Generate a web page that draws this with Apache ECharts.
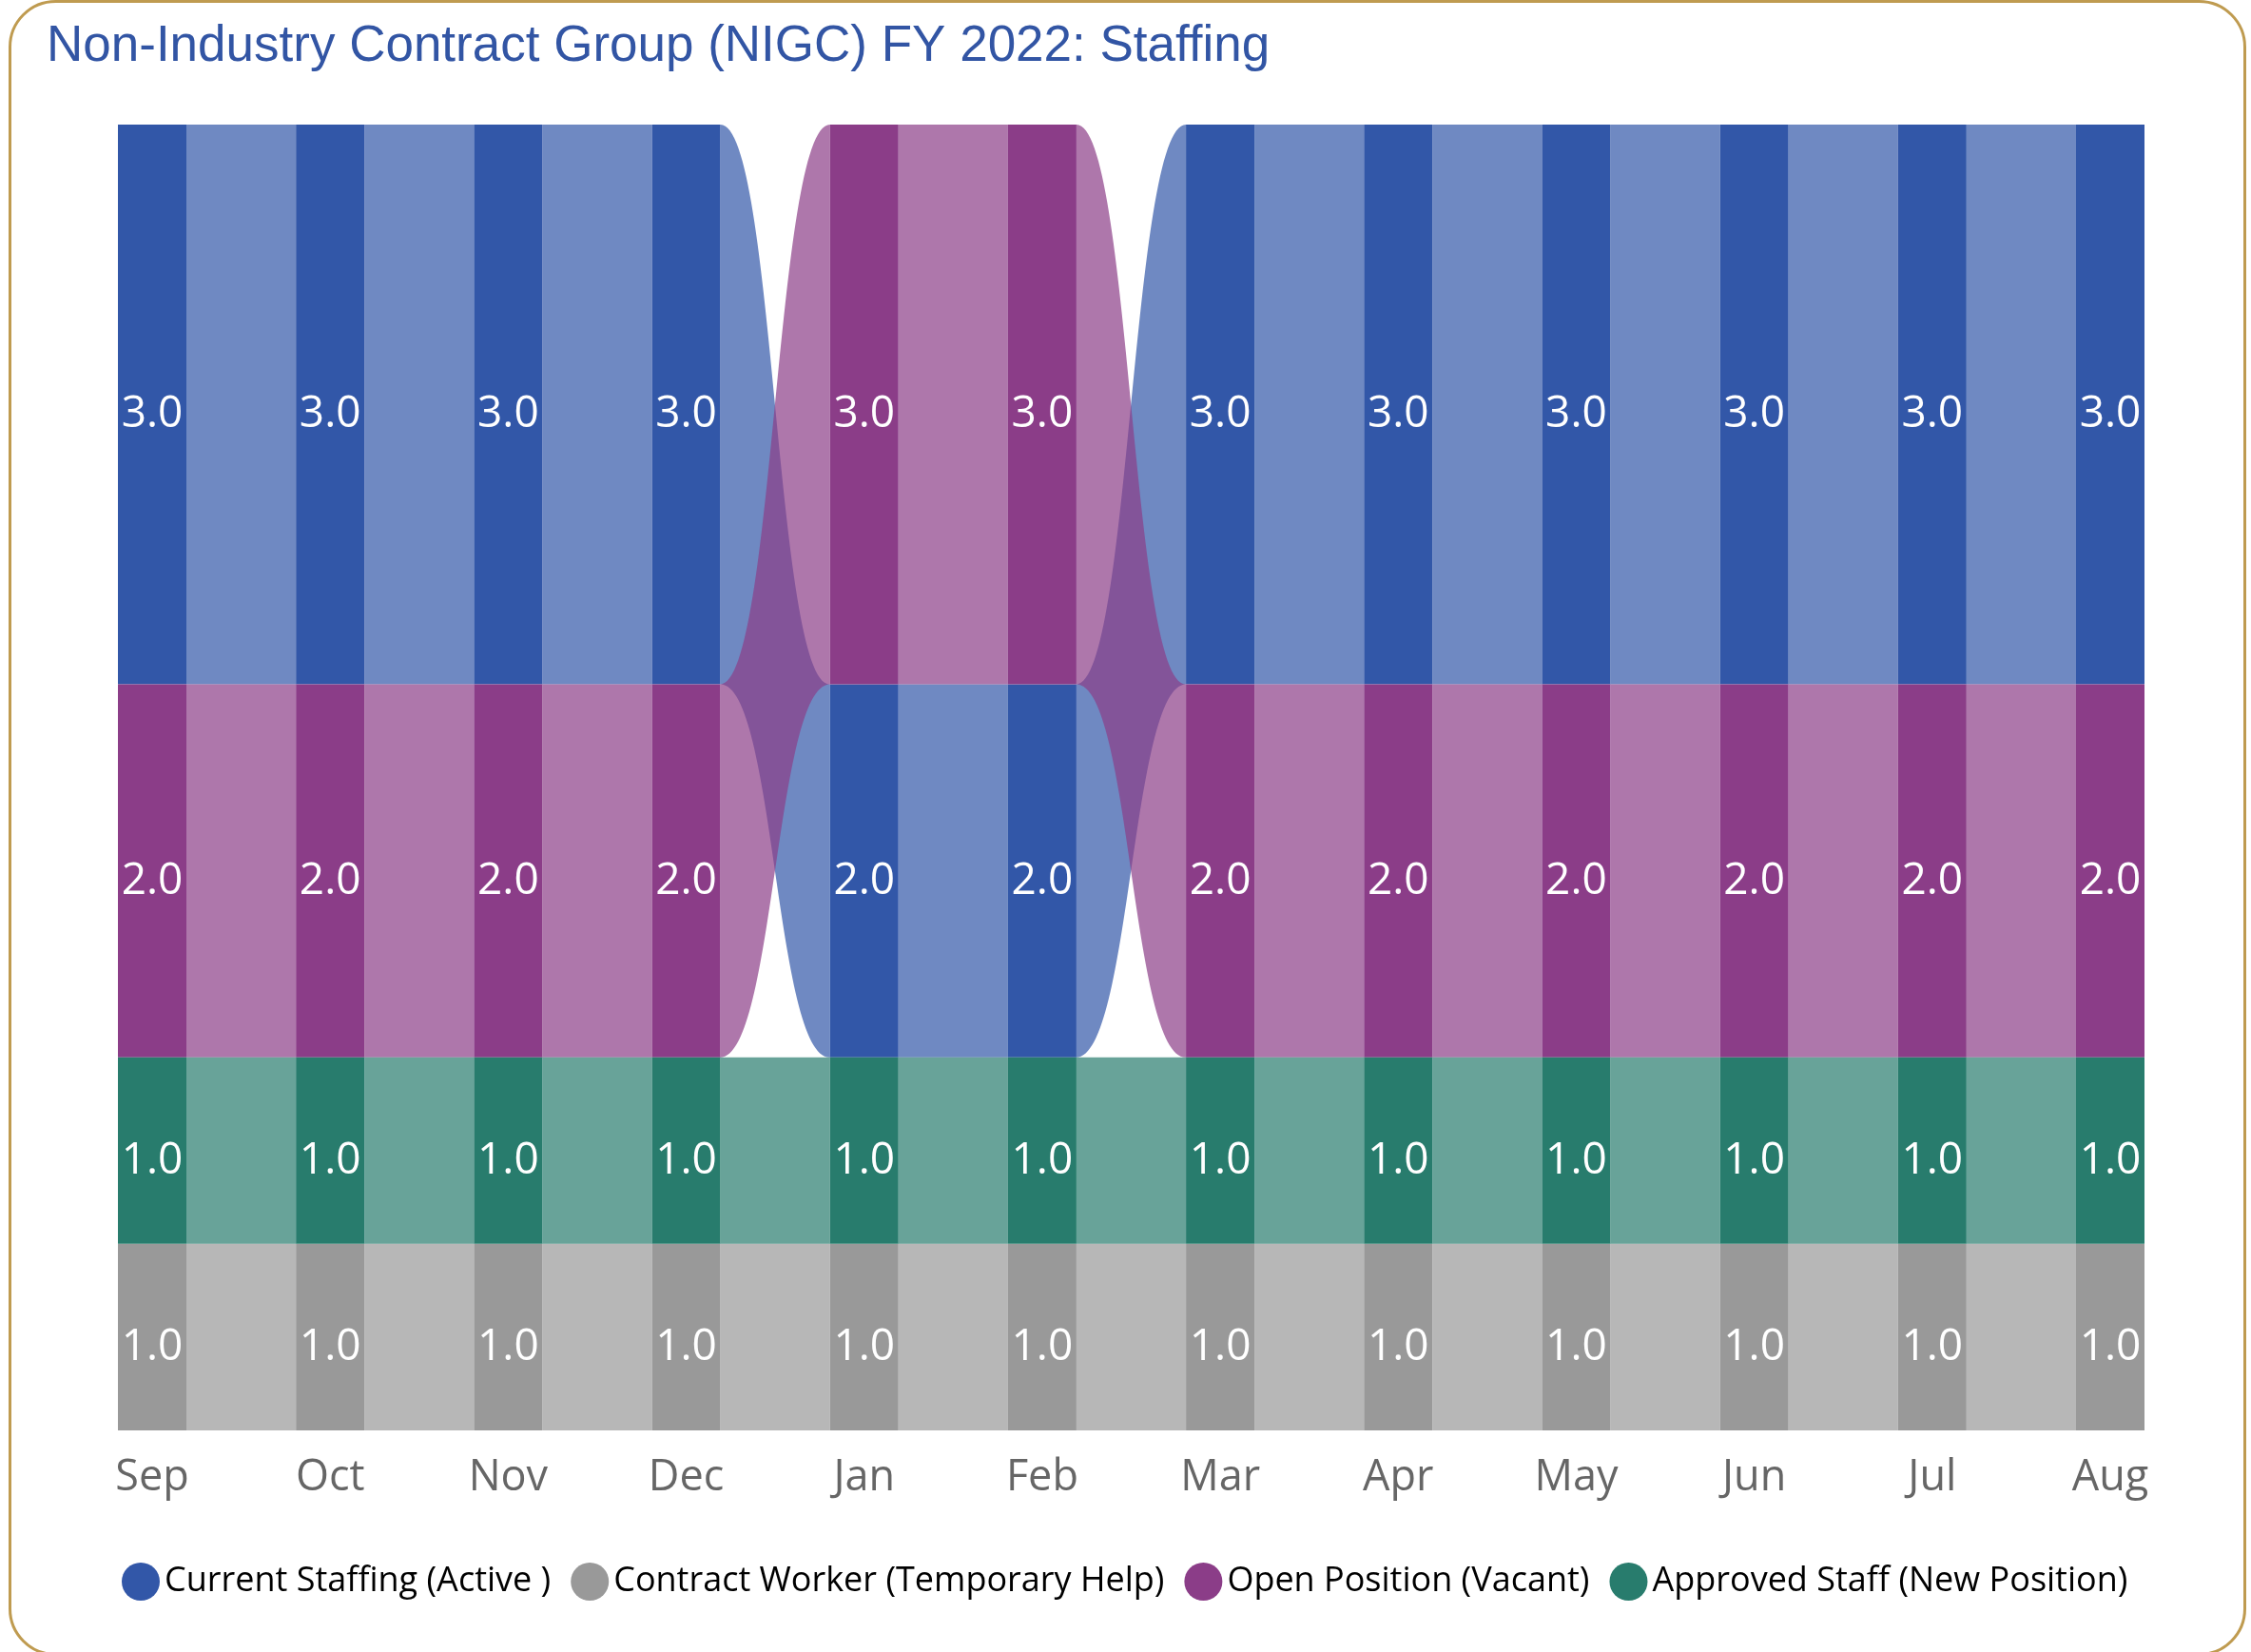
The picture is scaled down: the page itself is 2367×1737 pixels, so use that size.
<!DOCTYPE html>
<html>
<head>
<meta charset="utf-8">
<title>NIGC FY 2022: Staffing</title>
<script src="https://cdn.jsdelivr.net/npm/echarts@6/dist/echarts.min.js"></script>
<style>
  html, body { margin: 0; padding: 0; background: #fff; }
  #main { width: 2367px; height: 1737px; }
</style>
</head>
<body>
<div id="main"></div>
<script>
var months = ['Sep', 'Oct', 'Nov', 'Dec', 'Jan', 'Feb', 'Mar', 'Apr', 'May', 'Jun', 'Jul', 'Aug'];
var seriesNames = ['Current Staffing (Active )', 'Contract Worker (Temporary Help)', 'Open Position (Vacant)', 'Approved Staff (New Position)'];
var currentStaffing = [3, 3, 3, 3, 2, 2, 3, 3, 3, 3, 3, 3];
var contractWorker = [1, 1, 1, 1, 1, 1, 1, 1, 1, 1, 1, 1];
var openPosition = [2, 2, 2, 2, 3, 3, 2, 2, 2, 2, 2, 2];
var approvedStaff = [1, 1, 1, 1, 1, 1, 1, 1, 1, 1, 1, 1];
var colors = ['#3257a8', '#999999', '#8b3d88', '#287c6d'];

var allValues = [currentStaffing, contractWorker, openPosition, approvedStaff];
var BAR_W = 72;
var LABEL_SHIFT = 11;   // Open Sans sits high with verticalAlign middle

// ribbon chart: per month the biggest value sits on top, ties keep legend order
function stackBases() {
    var bases = allValues.map(function () { return []; });
    for (var m = 0; m < months.length; m++) {
        var order = [0, 1, 2, 3].sort(function (a, b) {
            return allValues[a][m] - allValues[b][m] || a - b;
        });
        var acc = 0;
        order.forEach(function (s) {
            bases[s][m] = acc;
            acc += allValues[s][m];
        });
    }
    return bases;
}
var bases = stackBases();

function makeRenderItem(s) {
    return function (params, api) {
        var m = api.value(0);
        var v = api.value(1);
        var b = bases[s][m];
        var half = BAR_W / 2;
        var p0 = api.coord([m, b]);
        var p1 = api.coord([m, b + v]);
        var children = [];
        if (m < months.length - 1) {
            var nb = bases[s][m + 1], nv = allValues[s][m + 1];
            var q0 = api.coord([m + 1, nb]);
            var q1 = api.coord([m + 1, nb + nv]);
            var xa = p0[0] + half, xb = q0[0] - half, xm = (xa + xb) / 2;
            var d = 'M' + xa + ' ' + p1[1] +
                ' C' + xm + ' ' + p1[1] + ' ' + xm + ' ' + q1[1] + ' ' + xb + ' ' + q1[1] +
                ' L' + xb + ' ' + q0[1] +
                ' C' + xm + ' ' + q0[1] + ' ' + xm + ' ' + p0[1] + ' ' + xa + ' ' + p0[1] + ' Z';
            children.push({
                type: 'path',
                shape: { pathData: d },
                style: { fill: colors[s], opacity: 0.7 }
            });
        }
        children.push({
            type: 'rect',
            shape: { x: p0[0] - half, y: p1[1], width: BAR_W, height: p0[1] - p1[1] },
            style: { fill: colors[s] }
        });
        children.push({
            type: 'text',
            style: {
                text: v.toFixed(1),
                x: p0[0],
                y: (p0[1] + p1[1]) / 2 + LABEL_SHIFT,
                align: 'center',
                verticalAlign: 'middle',
                fill: '#ffffff',
                fontSize: 46,
                fontWeight: 'normal',
                fontFamily: '"Open Sans", "Noto Sans", sans-serif'
            }
        });
        return { type: 'group', children: children };
    };
}

var myChart = echarts.init(document.getElementById('main'));
var option = {
    backgroundColor: '#ffffff',
    color: colors,
    animation: false,
    title: {
        text: 'Non-Industry Contract Group (NIGC) FY 2022: Staffing',
        left: 44,
        top: 18,
        textStyle: {
            fontFamily: '"Liberation Sans", Arial, sans-serif',
            fontSize: 53,
            fontWeight: 'normal',
            color: '#3255a4'
        }
    },
    graphic: [{
        type: 'rect',
        shape: { x: 10.5, y: 1.5, width: 2350, height: 1738, r: 48 },
        style: { fill: 'none', stroke: '#bf9b50', lineWidth: 3 },
        silent: true
    }],
    legend: {
        left: 123,
        top: 1638,
        icon: 'circle',
        itemWidth: 40,
        itemHeight: 40,
        itemGap: 21,
        data: seriesNames,
        textStyle: {
            fontFamily: '"Open Sans", "Noto Sans", sans-serif',
            fontSize: 36,
            color: '#000000'
        }
    },
    grid: { left: 160, right: 148, top: 131, bottom: 233 },
    xAxis: {
        type: 'category',
        data: months,
        boundaryGap: false,
        axisLine: { show: false },
        axisTick: { show: false },
        splitLine: { show: false },
        axisLabel: {
            interval: 0,
            margin: 28,
            fontSize: 45,
            color: '#666666',
            fontFamily: '"Open Sans", "Noto Sans", sans-serif'
        }
    },
    yAxis: { type: 'value', min: 0, max: 7, show: false },
    series: allValues.map(function (vals, s) {
        return {
            name: seriesNames[s],
            type: 'custom',
            itemStyle: { color: colors[s] },
            renderItem: makeRenderItem(s),
            encode: { x: 0, y: 1 },
            data: vals.map(function (v, i) { return [i, v]; })
        };
    })
};
myChart.setOption(option);
window.addEventListener('resize', function () { myChart.resize(); });
</script>
</body>
</html>
